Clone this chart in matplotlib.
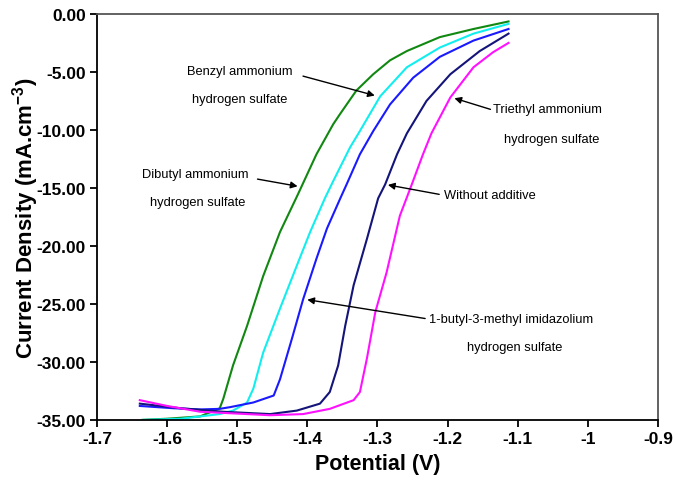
import matplotlib.pyplot as plt
from matplotlib.ticker import FormatStrFormatter, FuncFormatter

plt.rcParams["font.family"] = ["Liberation Sans", "DejaVu Sans"]
plt.rcParams["axes.unicode_minus"] = False
plt.rcParams["mathtext.fontset"] = "custom"
plt.rcParams["mathtext.bf"] = "Liberation Sans:bold"
plt.rcParams["mathtext.rm"] = "Liberation Sans"

# polarisation curves, potential (V) vs current density (mA.cm-3)
dibutyl_x = [-1.635, -1.60, -1.553, -1.525, -1.520, -1.506, -1.486, -1.463, -1.439,
             -1.413, -1.387, -1.363, -1.353, -1.330, -1.306, -1.282, -1.258, -1.211,
             -1.163, -1.113]
dibutyl_y = [-35.0, -34.9, -34.7, -34.0, -33.2, -30.3, -26.9, -22.6, -18.8,
             -15.5, -12.1, -9.5, -8.6, -6.6, -5.2, -4.0, -3.2, -2.0,
             -1.3, -0.65]

benzyl_x = [-1.635, -1.58, -1.525, -1.506, -1.486, -1.477, -1.463, -1.439, -1.415,
            -1.396, -1.375, -1.363, -1.339, -1.327, -1.296, -1.258, -1.211, -1.163,
            -1.113]
benzyl_y = [-35.0, -34.9, -34.5, -34.2, -33.5, -32.3, -29.2, -25.4, -21.7,
            -18.8, -15.9, -14.4, -11.5, -10.3, -7.1, -4.6, -2.9, -1.7,
            -0.86]

bmim_x = [-1.639, -1.59, -1.553, -1.525, -1.510, -1.477, -1.448, -1.439, -1.422,
          -1.406, -1.387, -1.372, -1.353, -1.344, -1.325, -1.306, -1.282, -1.249,
          -1.211, -1.163, -1.113]
bmim_y = [-33.8, -34.0, -34.1, -34.05, -33.9, -33.5, -32.9, -31.5, -28.0,
          -24.6, -21.1, -18.5, -15.9, -14.7, -12.1, -10.1, -7.8, -5.5,
          -3.7, -2.3, -1.3]

without_x = [-1.639, -1.58, -1.52, -1.453, -1.415, -1.382, -1.368, -1.356, -1.346,
             -1.334, -1.315, -1.299, -1.289, -1.272, -1.258, -1.230, -1.196, -1.154,
             -1.113]
without_y = [-33.6, -34.0, -34.3, -34.5, -34.2, -33.6, -32.6, -30.3, -26.9,
             -23.4, -19.4, -15.9, -14.7, -12.1, -10.3, -7.5, -5.2, -3.2,
             -1.7]

triethyl_x = [-1.639, -1.60, -1.553, -1.453, -1.406, -1.368, -1.334, -1.325, -1.315,
              -1.303, -1.287, -1.268, -1.251, -1.235, -1.223, -1.196, -1.163, -1.135,
              -1.113]
triethyl_y = [-33.3, -33.8, -34.3, -34.6, -34.5, -34.05, -33.3, -32.6, -29.7,
              -25.7, -22.3, -17.4, -14.7, -12.1, -10.3, -7.2, -4.6, -3.3,
              -2.5]

x_ticks = [-1.7, -1.6, -1.5, -1.4, -1.3, -1.2, -1.1, -1.0, -0.9]
y_ticks = [0, -5, -10, -15, -20, -25, -30, -35]

fig = plt.figure(figsize=(6.74, 4.81), dpi=100)
ax = fig.add_axes([0.144, 0.125, 0.832, 0.844])

ax.plot(dibutyl_x, dibutyl_y, color="#118811", lw=1.5)
ax.plot(benzyl_x, benzyl_y, color="#11eeee", lw=1.5)
ax.plot(bmim_x, bmim_y, color="#1a1aff", lw=1.5)
ax.plot(without_x, without_y, color="#14147a", lw=1.5)
ax.plot(triethyl_x, triethyl_y, color="#ff11ff", lw=1.5)

ax.set_xlim(-1.7, -0.9)
ax.set_ylim(-35, 0)
ax.set_xticks(x_ticks)
ax.set_yticks(y_ticks)
ax.xaxis.set_major_formatter(FuncFormatter(lambda v, p: f"{v:g}"))
ax.yaxis.set_major_formatter(FormatStrFormatter("%.2f"))
ax.tick_params(direction="out", length=5, width=1.3, labelsize=12.5, pad=3)
for lab in ax.get_xticklabels() + ax.get_yticklabels():
    lab.set_fontweight("bold")
for sp in ax.spines.values():
    sp.set_linewidth(1.3)
for sp in ("top", "right"):
    ax.spines[sp].set_color("#555555")

ax.set_xlabel("Potential (V)", fontsize=15.5, fontweight="bold", labelpad=5)
ax.set_ylabel(r"Current Density (mA.cm$^{\mathbf{-3}}$)", fontsize=16,
              fontweight="bold", labelpad=-3)

arrow = dict(arrowstyle="-|>", color="black", lw=1.0, mutation_scale=10)
tsize = 9.3

ax.annotate("", xy=(-1.30, -7.1), xytext=(-1.41, -5.3), arrowprops=arrow)
ax.text(-1.496, -4.9, "Benzyl ammonium", fontsize=tsize, ha="center", va="center")
ax.text(-1.496, -7.3, "hydrogen sulfate", fontsize=tsize, ha="center", va="center")

ax.annotate("", xy=(-1.41, -14.9), xytext=(-1.475, -14.2), arrowprops=arrow)
ax.text(-1.56, -13.8, "Dibutyl ammonium", fontsize=tsize, ha="center", va="center")
ax.text(-1.556, -16.2, "hydrogen sulfate", fontsize=tsize, ha="center", va="center")

ax.annotate("", xy=(-1.194, -7.2), xytext=(-1.135, -8.3), arrowprops=arrow)
ax.text(-1.057, -8.2, "Triethyl ammonium", fontsize=tsize, ha="center", va="center")
ax.text(-1.051, -10.8, "hydrogen sulfate", fontsize=tsize, ha="center", va="center")

ax.annotate("", xy=(-1.289, -14.7), xytext=(-1.208, -15.6), arrowprops=arrow)
ax.text(-1.205, -15.6, "Without additive", fontsize=tsize, ha="left", va="center")

ax.annotate("", xy=(-1.404, -24.6), xytext=(-1.228, -26.3), arrowprops=arrow)
ax.text(-1.226, -26.3, "1-butyl-3-methyl imidazolium", fontsize=tsize,
        ha="left", va="center")
ax.text(-1.104, -28.7, "hydrogen sulfate", fontsize=tsize, ha="center", va="center")

fig.savefig("out.png", dpi=100)
